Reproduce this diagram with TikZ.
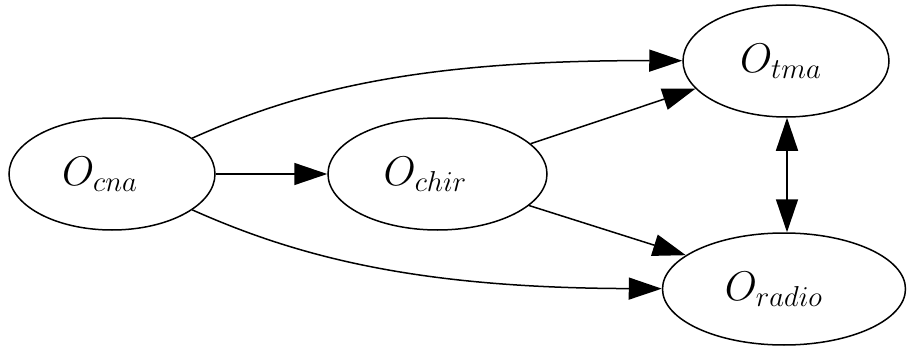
\documentclass[tikz,border=0pt]{standalone}
\usetikzlibrary{shapes.geometric,arrows.meta}
\begin{document}
\begin{tikzpicture}[x=0.5pt,y=-0.5pt,
  state/.style={draw,ellipse,line width=0.75pt,inner sep=0pt,minimum height=56pt,font=\fontsize{20}{24}\selectfont},
  edge/.style={line width=0.75pt,-{Triangle[length=16.5pt,width=11pt]}},
  bidir/.style={line width=0.75pt,{Triangle[length=16.5pt,width=11pt]}-{Triangle[length=16.5pt,width=11pt]}}]
\useasboundingbox (0,0) rectangle (907,348);
\node[state,minimum width=103pt] (cna) at (112,174) {\hspace*{-12pt}$O_{cna}$};
\node[state,minimum width=109.5pt] (chir) at (437.5,174) {\hspace*{-12pt}$O_{chir}$};
\node[state,minimum width=103pt] (tma) at (786,61) {\hspace*{-5pt}$O_{tma}$};
\node[state,minimum width=121.5pt] (radio) at (784,289) {\hspace*{-10pt}$O_{radio}$};
\draw[edge] (cna) .. controls (300,90) and (420,60) .. (tma);
\draw[edge] (cna) -- (chir);
\draw[edge] (cna) .. controls (300,258) and (420,288) .. (radio);
\draw[edge] (chir.18) -- (tma.197);
\draw[edge] (chir.-19) -- (radio.161);
\draw[bidir] (tma.south -| 787,0) -- (radio.north -| 787,0);
\end{tikzpicture}
\end{document}
